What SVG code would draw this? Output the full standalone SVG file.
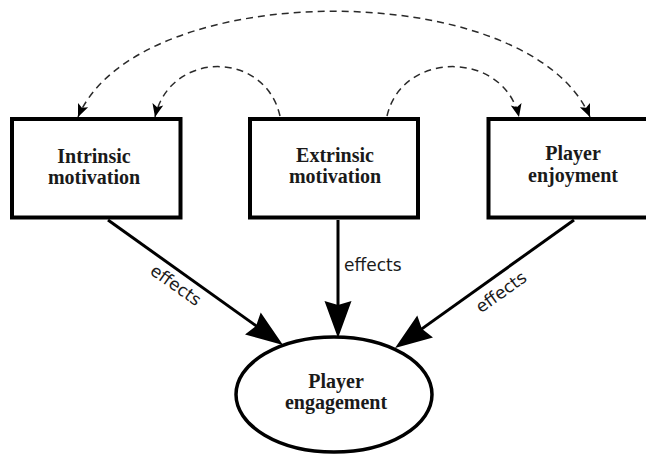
<svg xmlns="http://www.w3.org/2000/svg" width="646" height="454" viewBox="0 0 646 454">
  <style>
    .box { fill: #fff; stroke: #000; stroke-width: 4; }
    .oval { fill: #fff; stroke: #000; stroke-width: 3.5; }
    .title { font-family: "Liberation Serif", "Times New Roman", serif; font-weight: bold; font-size: 20px; fill: #1a1a1a; text-anchor: middle; }
    .label { font-family: "DejaVu Sans", Verdana, sans-serif; font-size: 17px; fill: #1a1a1a; }
    .effect { fill: none; stroke: #000; stroke-width: 3; }
    .corr { fill: none; stroke: #2a2a2a; stroke-width: 1.5; stroke-dasharray: 7 5; }
  </style>
  <defs>
    <!-- large filled head for the solid "effects" arrows; tip sits 20px past the line end -->
    <marker id="bigHead" markerUnits="userSpaceOnUse" markerWidth="60" markerHeight="40" viewBox="-20 -20 60 40" refX="0" refY="0" orient="auto" overflow="visible">
      <path d="M20,0 L-17,-13.5 L-13,0 L-17,13.5 Z" fill="#000"/>
    </marker>
    <!-- small head for the dashed correlation arcs -->
    <marker id="smallHead" markerUnits="userSpaceOnUse" markerWidth="20" markerHeight="16" viewBox="-14 -8 20 16" refX="0" refY="0" orient="auto-start-reverse" overflow="visible">
      <path d="M0,0 L-13,-5.5 L-10,0 L-13,5.5 Z" fill="#000"/>
    </marker>
  </defs>

  <!-- connectors -->
  <g id="connectors">
    <path class="corr" d="M280,116 C265,50 170,50 155,117" marker-end="url(#smallHead)"/>
    <path class="corr" d="M387,116 C402,50 504,50 519,117" marker-end="url(#smallHead)"/>
    <path class="corr" d="M590,117 C530,-24 138,-24 78,117" marker-start="url(#smallHead)" marker-end="url(#smallHead)"/>
    <path class="effect" d="M108,220 L266.7,333.4" marker-end="url(#bigHead)"/>
    <path class="effect" d="M338,220 L338,318" marker-end="url(#bigHead)"/>
    <path class="effect" d="M574,220 L411.3,336.4" marker-end="url(#bigHead)"/>
    <text class="label" transform="translate(176,285) rotate(35.5)" y="6" text-anchor="middle">effects</text>
    <text class="label" x="344" y="271">effects</text>
    <text class="label" transform="translate(501,292) rotate(-35.6)" y="6" text-anchor="middle">effects</text>
  </g>

  <g id="intrinsic">
    <rect class="box" x="12" y="119" width="168.5" height="98.5"/>
    <text class="title" x="94" y="163">Intrinsic</text>
    <text class="title" x="94" y="184">motivation</text>
  </g>

  <g id="extrinsic">
    <rect class="box" x="250" y="119" width="168" height="98.5"/>
    <text class="title" x="335" y="162">Extrinsic</text>
    <text class="title" x="335" y="183">motivation</text>
  </g>

  <g id="enjoyment">
    <rect class="box" x="488.5" y="119" width="168" height="98.5"/>
    <text class="title" x="573" y="160">Player</text>
    <text class="title" x="573" y="182">enjoyment</text>
  </g>

  <g id="engagement">
    <ellipse class="oval" cx="334" cy="394.5" rx="98" ry="57.5"/>
    <text class="title" x="336" y="388">Player</text>
    <text class="title" x="336" y="409">engagement</text>
  </g>
</svg>
